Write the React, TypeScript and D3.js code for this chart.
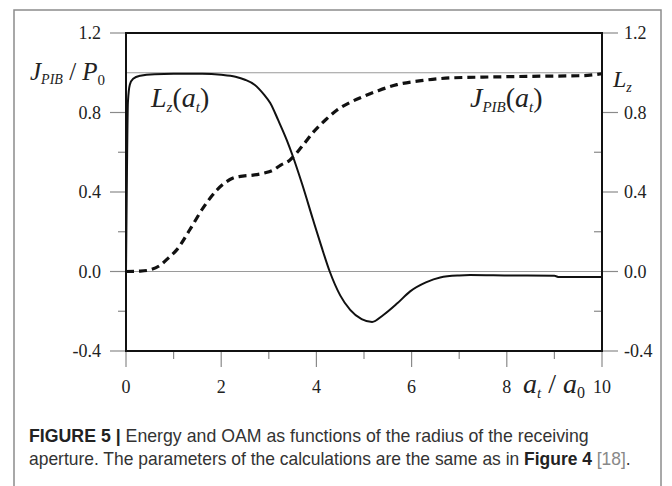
import React, { useLayoutEffect, useRef, useState } from "react";
import * as d3 from "d3";

// ---- data ----
const lzX = [0, 0.02, 0.04, 0.08, 0.15, 0.3, 0.6, 1.0, 1.6, 2.0, 2.3, 2.5, 2.7, 2.9, 3.03, 3.2, 3.38, 3.49, 3.7, 3.93, 4.1, 4.28, 4.5, 4.71, 4.95, 5.17, 5.4, 5.7, 5.97, 6.3, 6.6, 7.0, 7.23, 8.0, 9.0, 9.1, 10.0];
const lzY = [0, 0.5, 0.85, 0.94, 0.97, 0.985, 0.993, 0.995, 0.995, 0.99, 0.98, 0.965, 0.94, 0.89, 0.848, 0.76, 0.66, 0.59, 0.44, 0.26, 0.13, 0.0, -0.12, -0.193, -0.24, -0.254, -0.22, -0.16, -0.1, -0.055, -0.03, -0.02, -0.018, -0.02, -0.022, -0.028, -0.028];

const jX = [0, 0.3, 0.5, 0.71, 0.9, 1.07, 1.34, 1.62, 1.91, 2.1, 2.25, 2.45, 2.67, 2.9, 3.09, 3.25, 3.44, 3.7, 3.93, 4.2, 4.42, 4.7, 4.98, 5.3, 5.69, 6.2, 6.81, 7.5, 8.5, 9.5, 9.7, 10.0];
const jY = [0, 0.002, 0.008, 0.03, 0.07, 0.11, 0.21, 0.32, 0.41, 0.45, 0.47, 0.48, 0.485, 0.495, 0.51, 0.535, 0.56, 0.63, 0.7, 0.765, 0.81, 0.85, 0.88, 0.91, 0.94, 0.96, 0.974, 0.978, 0.982, 0.985, 0.987, 0.995];

const xMajor = [0, 2, 4, 6, 8, 10];
const xMinor = [1, 3, 5, 7, 9];
const yMajor = [1.2, 0.8, 0.4, 0.0, -0.4];
const yMinor = [0.6, 0.2, -0.2];
const yMajorLabels = ["1.2", "0.8", "0.4", "0.0", "-0.4"];
const xMajorLabels = ["0", "2", "4", "6", "8", "10"];
const refLines = [1.0, 0.0];

const W = 672;
const H = 486;
const PL = 126, PR = 602, PT = 33, PB = 351;

function FitText({ x, y, width, children, ...rest }: any) {
  const ref = useRef<SVGTextElement>(null);
  const [sx, setSx] = useState(1);
  useLayoutEffect(() => {
    if (ref.current) {
      const w = ref.current.getComputedTextLength();
      if (w > 0) setSx(width / w);
    }
  }, [width]);
  return (
    <g transform={`translate(${x},${y}) scale(${sx},1)`}>
      <text ref={ref} x={0} y={0} {...rest}>
        {children}
      </text>
    </g>
  );
}

export default function App() {
  const x = d3.scaleLinear().domain([0, 10]).range([PL, PR]);
  const y = d3.scaleLinear().domain([-0.4, 1.2]).range([PB, PT]);
  const line = d3
    .line<[number, number]>()
    .x((d) => x(d[0]))
    .y((d) => y(d[1]))
    .curve(d3.curveMonotoneX);
  const lzPath = line(lzX.map((v, i) => [v, lzY[i]] as [number, number])) || "";
  const jPath = line(jX.map((v, i) => [v, jY[i]] as [number, number])) || "";

  const serif = "'Liberation Serif', 'Times New Roman', serif";
  const sans = "'Liberation Sans', Arial, sans-serif";
  const tickCol = "#8a8a8a";
  const txt = "#222";

  return (
    <div style={{ position: "absolute", left: 0, top: 0 }}>
      <svg width={W} height={H} style={{ display: "block", background: "#fff" }}>
        {/* outer frame */}
        <rect x={14} y={10} width={647} height={520} fill="none" stroke="#8c8c8c" strokeWidth={1.5} />

        {/* reference lines */}
        {refLines.map((v) => (
          <line key={"r" + v} x1={v === 0 ? PL - 16 : PL} x2={PR} y1={y(v)} y2={y(v)} stroke="#9a9a9a" strokeWidth={1.2} />
        ))}

        {/* left ticks */}
        {yMajor.map((v) => (
          <line key={"lm" + v} x1={PL - 16} x2={PL} y1={y(v)} y2={y(v)} stroke={tickCol} strokeWidth={1.2} />
        ))}
        {yMinor.map((v) => (
          <line key={"ln" + v} x1={PL - 8} x2={PL} y1={y(v)} y2={y(v)} stroke={tickCol} strokeWidth={1.2} />
        ))}
        {/* right ticks */}
        {yMajor.map((v) => (
          <line key={"rm" + v} x1={PR} x2={PR + 16} y1={y(v)} y2={y(v)} stroke={tickCol} strokeWidth={1.2} />
        ))}
        {yMinor.map((v) => (
          <line key={"rn" + v} x1={PR - 8} x2={PR} y1={y(v)} y2={y(v)} stroke={tickCol} strokeWidth={1.2} />
        ))}
        {/* bottom ticks */}
        {xMajor.map((v) => (
          <line key={"bm" + v} x1={x(v)} x2={x(v)} y1={PB} y2={PB + 16} stroke={tickCol} strokeWidth={1.2} />
        ))}
        {xMinor.map((v) => (
          <line key={"bn" + v} x1={x(v)} x2={x(v)} y1={PB} y2={PB + 8} stroke={tickCol} strokeWidth={1.2} />
        ))}

        {/* plot box */}
        <rect x={PL} y={PT} width={PR - PL} height={PB - PT} fill="none" stroke="#111" strokeWidth={2} />

        {/* curves */}
        <path d={jPath} fill="none" stroke="#111" strokeWidth={3.2} strokeDasharray="8 5" />
        <path d={lzPath} fill="none" stroke="#111" strokeWidth={2} />

        {/* tick labels */}
        {yMajor.map((v, i) => (
          <text key={"ll" + v} x={101} y={y(v)} dy="0.35em" textAnchor="end" fontFamily={serif} fontSize={18} fill={txt}>
            {yMajorLabels[i]}
          </text>
        ))}
        {yMajor.map((v, i) => (
          <text key={"rl" + v} x={624} y={y(v)} dy="0.35em" textAnchor="start" fontFamily={serif} fontSize={18} fill={txt}>
            {yMajorLabels[i]}
          </text>
        ))}
        {xMajor.map((v, i) => (
          <text key={"xl" + v} x={x(v)} y={387} dy="0.35em" textAnchor="middle" fontFamily={serif} fontSize={18} fill={txt}>
            {xMajorLabels[i]}
          </text>
        ))}

        {/* axis titles */}
        <text x={30} y={80} fontFamily={serif} fontStyle="italic" fontSize={25} fill={txt}>
          J
          <tspan fontSize={14} dy={4}>PIB</tspan>
          <tspan dy={-4} fontStyle="normal"> / </tspan>
          <tspan>P</tspan>
          <tspan fontSize={15} dy={5} fontStyle="normal">0</tspan>
        </text>
        <text x={613} y={87} fontFamily={serif} fontStyle="italic" fontSize={24} fill={txt}>
          L<tspan fontSize={14} dy={5}>z</tspan>
        </text>
        <text x={523} y={393} fontFamily={serif} fontStyle="italic" fontSize={28} fill={txt}>
          a<tspan fontSize={15} dy={5}>t</tspan>
          <tspan dy={-5} fontStyle="normal"> / </tspan>
          <tspan>a</tspan>
          <tspan fontSize={16} dy={5} fontStyle="normal">0</tspan>
        </text>

        {/* curve labels */}
        <text x={151} y={107} fontFamily={serif} fontStyle="italic" fontSize={28} fill={txt}>
          L<tspan fontSize={15} dy={5}>z</tspan>
          <tspan dy={-5} fontStyle="normal">(</tspan>
          <tspan>a</tspan>
          <tspan fontSize={15} dy={5}>t</tspan>
          <tspan dy={-5} fontStyle="normal">)</tspan>
        </text>
        <text x={470} y={107} fontFamily={serif} fontStyle="italic" fontSize={28} fill={txt}>
          J<tspan fontSize={15} dy={5}>PIB</tspan>
          <tspan dy={-5} fontStyle="normal">(</tspan>
          <tspan>a</tspan>
          <tspan fontSize={15} dy={5}>t</tspan>
          <tspan dy={-5} fontStyle="normal">)</tspan>
        </text>

        {/* caption */}
        <FitText x={29} y={442} width={560} fontFamily={sans} fontSize={18} fill="#333">
          <tspan fontWeight="bold" fill="#222">FIGURE 5 |</tspan>
          <tspan> Energy and OAM as functions of the radius of the receiving</tspan>
        </FitText>
        <FitText x={29} y={465} width={602} fontFamily={sans} fontSize={18} fill="#333">
          <tspan>aperture. The parameters of the calculations are the same as in </tspan>
          <tspan fontWeight="bold" fill="#222">Figure 4</tspan>
          <tspan fill="#888"> [18]</tspan>
          <tspan>.</tspan>
        </FitText>
      </svg>
    </div>
  );
}
